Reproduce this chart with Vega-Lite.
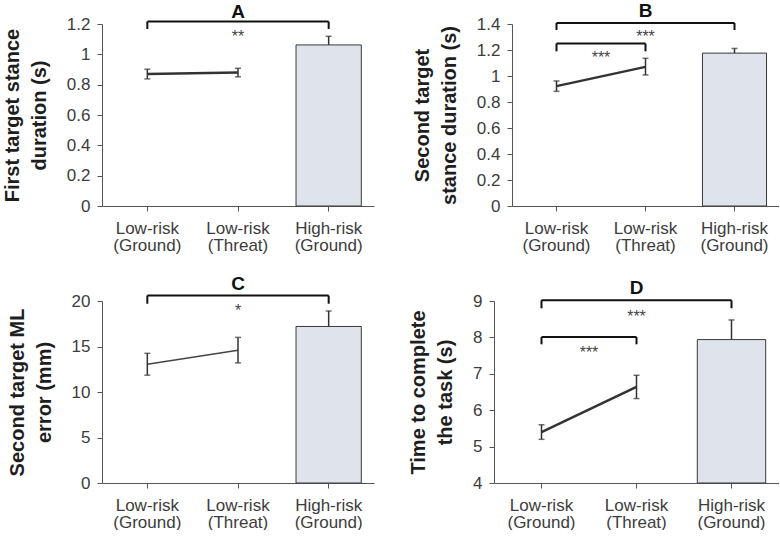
{
  "$schema": "https://vega.github.io/schema/vega-lite/v6.json",
  "padding": {"left": 2, "top": 2, "right": 0, "bottom": 0},
  "background": "white",
  "config": {
    "font": "Liberation Sans",
    "view": {"stroke": null},
    "title": {"font": "Liberation Sans", "fontSize": 19, "fontWeight": "bold", "color": "#111", "anchor": "middle", "frame": "group"},
    "axis": {
      "labelFont": "Liberation Sans", "titleFont": "Liberation Sans",
      "domainColor": "#555", "tickColor": "#555", "labelColor": "#3c3c3c", "titleColor": "#1e1e1e",
      "grid": false, "tickSize": 5, "domainWidth": 1, "tickWidth": 1, "labelOverlap": false
    },
    "axisX": {"labelFontSize": 17, "labelLineHeight": 17, "labelAngle": 0, "labelPadding": 9, "labelBaseline": "top", "labelExpr": "split(datum.label, ' ')", "title": null},
    "axisY": {"labelFontSize": 17, "labelPadding": 7, "titleFontSize": 20, "titleFontWeight": "bold", "titleLineHeight": 27, "titlePadding": 17, "format": "~g"}
  },
  "datasets": {
    "a": [
      {"cond": "Low-risk (Ground)", "kind": "line", "mean": 0.87, "lo": 0.838, "hi": 0.902},
      {"cond": "Low-risk (Threat)", "kind": "line", "mean": 0.88, "lo": 0.852, "hi": 0.908},
      {"cond": "High-risk (Ground)", "kind": "bar", "mean": 1.062, "lo": 1.062, "hi": 1.119}
    ],
    "aBr": [
      {"x1": "Low-risk (Ground)", "x2": "High-risk (Ground)", "y": 1.216, "leg": 1.167, "label": "**", "lx": "Low-risk (Threat)", "pos": "center", "ly": 1.14}
    ],
    "b": [
      {"cond": "Low-risk (Ground)", "kind": "line", "mean": 0.922, "lo": 0.882, "hi": 0.962},
      {"cond": "Low-risk (Threat)", "kind": "line", "mean": 1.07, "lo": 1.008, "hi": 1.136},
      {"cond": "High-risk (Ground)", "kind": "bar", "mean": 1.176, "lo": 1.176, "hi": 1.212}
    ],
    "bBr": [
      {"x1": "Low-risk (Ground)", "x2": "High-risk (Ground)", "y": 1.408, "leg": 1.354, "label": "***", "lx": "Low-risk (Threat)", "pos": "center", "ly": 1.33},
      {"x1": "Low-risk (Ground)", "x2": "Low-risk (Threat)", "y": 1.25, "leg": 1.19, "label": "***", "lx": "Low-risk (Ground)", "pos": "edge", "ly": 1.173}
    ],
    "c": [
      {"cond": "Low-risk (Ground)", "kind": "line", "mean": 13.05, "lo": 11.85, "hi": 14.25},
      {"cond": "Low-risk (Threat)", "kind": "line", "mean": 14.6, "lo": 13.2, "hi": 16.0},
      {"cond": "High-risk (Ground)", "kind": "bar", "mean": 17.2, "lo": 17.2, "hi": 18.9}
    ],
    "cBr": [
      {"x1": "Low-risk (Ground)", "x2": "High-risk (Ground)", "y": 20.6, "leg": 19.7, "label": "*", "lx": "Low-risk (Threat)", "pos": "center", "ly": 19.3}
    ],
    "d": [
      {"cond": "Low-risk (Ground)", "kind": "line", "mean": 5.4, "lo": 5.2, "hi": 5.6},
      {"cond": "Low-risk (Threat)", "kind": "line", "mean": 6.64, "lo": 6.32, "hi": 6.96},
      {"cond": "High-risk (Ground)", "kind": "bar", "mean": 7.94, "lo": 7.94, "hi": 8.48}
    ],
    "dBr": [
      {"x1": "Low-risk (Ground)", "x2": "High-risk (Ground)", "y": 9.02, "leg": 8.8, "label": "***", "lx": "Low-risk (Threat)", "pos": "center", "ly": 8.66},
      {"x1": "Low-risk (Ground)", "x2": "Low-risk (Threat)", "y": 8.01, "leg": 7.81, "label": "***", "lx": "Low-risk (Ground)", "pos": "edge", "ly": 7.67}
    ]
  },
  "spacing": 22,
  "vconcat": [
    {
      "bounds": "flush",
      "spacing": 138,
      "hconcat": [
        {
          "width": 272, "height": 182,
          "title": {"text": "A", "offset": -7},
          "layer": [
            {"data": {"name": "a"}, "transform": [{"filter": "datum.kind == 'bar'"}],
             "mark": {"type": "bar", "width": {"band": 0.72}, "fill": "#dfe3ec", "stroke": "#3a3a3a", "strokeWidth": 1},
             "encoding": {
               "x": {"field": "cond", "type": "nominal", "sort": null, "scale": {"domain": ["Low-risk (Ground)", "Low-risk (Threat)", "High-risk (Ground)"], "paddingInner": 0, "paddingOuter": 0}},
               "y": {"field": "mean", "type": "quantitative", "scale": {"domain": [0, 1.2], "nice": false}, "axis": {"values": [0, 0.2, 0.4, 0.6, 0.8, 1, 1.2], "title": ["First target stance", "duration (s)"]}},
               "y2": {"datum": 0}
             }},
            {"data": {"name": "a"}, "transform": [{"filter": "datum.kind == 'line'"}],
             "mark": {"type": "line", "color": "#333", "strokeWidth": 2.5},
             "encoding": {"x": {"field": "cond", "type": "nominal", "sort": null}, "y": {"field": "mean", "type": "quantitative", "axis": {"values": [0, 0.2, 0.4, 0.6, 0.8, 1, 1.2]}}}},
            {"data": {"name": "a"},
             "mark": {"type": "rule", "color": "#333", "strokeWidth": 1.5},
             "encoding": {"x": {"field": "cond", "type": "nominal", "sort": null}, "y": {"field": "lo", "type": "quantitative", "axis": {"values": [0, 0.2, 0.4, 0.6, 0.8, 1, 1.2]}}, "y2": {"field": "hi"}}},
            {"data": {"name": "a"},
             "mark": {"type": "tick", "color": "#333", "size": 6, "thickness": 1.5},
             "encoding": {"x": {"field": "cond", "type": "nominal", "sort": null}, "y": {"field": "hi", "type": "quantitative", "axis": {"values": [0, 0.2, 0.4, 0.6, 0.8, 1, 1.2]}}}},
            {"data": {"name": "a"}, "transform": [{"filter": "datum.kind == 'line'"}],
             "mark": {"type": "tick", "color": "#333", "size": 6, "thickness": 1.5},
             "encoding": {"x": {"field": "cond", "type": "nominal", "sort": null}, "y": {"field": "lo", "type": "quantitative", "axis": {"values": [0, 0.2, 0.4, 0.6, 0.8, 1, 1.2]}}}},
            {"data": {"name": "aBr"},
             "mark": {"type": "rule", "color": "#111", "strokeWidth": 2},
             "encoding": {"x": {"field": "x1", "type": "nominal"}, "x2": {"field": "x2"}, "y": {"field": "y", "type": "quantitative", "axis": {"values": [0, 0.2, 0.4, 0.6, 0.8, 1, 1.2]}}}},
            {"data": {"name": "aBr"},
             "mark": {"type": "rule", "color": "#111", "strokeWidth": 2},
             "encoding": {"x": {"field": "x1", "type": "nominal"}, "y": {"field": "y", "type": "quantitative", "axis": {"values": [0, 0.2, 0.4, 0.6, 0.8, 1, 1.2]}}, "y2": {"field": "leg"}}},
            {"data": {"name": "aBr"},
             "mark": {"type": "rule", "color": "#111", "strokeWidth": 2},
             "encoding": {"x": {"field": "x2", "type": "nominal"}, "y": {"field": "y", "type": "quantitative", "axis": {"values": [0, 0.2, 0.4, 0.6, 0.8, 1, 1.2]}}, "y2": {"field": "leg"}}},
            {"data": {"name": "aBr"}, "transform": [{"filter": "datum.pos == 'center'"}],
             "mark": {"type": "text", "fontSize": 16, "color": "#444", "baseline": "alphabetic", "dy": 9},
             "encoding": {"x": {"field": "lx", "type": "nominal"}, "y": {"field": "ly", "type": "quantitative", "axis": {"values": [0, 0.2, 0.4, 0.6, 0.8, 1, 1.2]}}, "text": {"field": "label"}}}
          ]
        },
        {
          "width": 267, "height": 182,
          "title": {"text": "B", "offset": -6},
          "layer": [
            {"data": {"name": "b"}, "transform": [{"filter": "datum.kind == 'bar'"}],
             "mark": {"type": "bar", "width": {"band": 0.72}, "fill": "#dfe3ec", "stroke": "#3a3a3a", "strokeWidth": 1},
             "encoding": {
               "x": {"field": "cond", "type": "nominal", "sort": null, "scale": {"domain": ["Low-risk (Ground)", "Low-risk (Threat)", "High-risk (Ground)"], "paddingInner": 0, "paddingOuter": 0}},
               "y": {"field": "mean", "type": "quantitative", "scale": {"domain": [0, 1.4], "nice": false}, "axis": {"values": [0, 0.2, 0.4, 0.6, 0.8, 1, 1.2, 1.4], "title": ["Second target", "stance duration (s)"]}},
               "y2": {"datum": 0}
             }},
            {"data": {"name": "b"}, "transform": [{"filter": "datum.kind == 'line'"}],
             "mark": {"type": "line", "color": "#333", "strokeWidth": 2.5},
             "encoding": {"x": {"field": "cond", "type": "nominal", "sort": null}, "y": {"field": "mean", "type": "quantitative", "axis": {"values": [0, 0.2, 0.4, 0.6, 0.8, 1, 1.2, 1.4]}}}},
            {"data": {"name": "b"},
             "mark": {"type": "rule", "color": "#333", "strokeWidth": 1.5},
             "encoding": {"x": {"field": "cond", "type": "nominal", "sort": null}, "y": {"field": "lo", "type": "quantitative", "axis": {"values": [0, 0.2, 0.4, 0.6, 0.8, 1, 1.2, 1.4]}}, "y2": {"field": "hi"}}},
            {"data": {"name": "b"},
             "mark": {"type": "tick", "color": "#333", "size": 6, "thickness": 1.5},
             "encoding": {"x": {"field": "cond", "type": "nominal", "sort": null}, "y": {"field": "hi", "type": "quantitative", "axis": {"values": [0, 0.2, 0.4, 0.6, 0.8, 1, 1.2, 1.4]}}}},
            {"data": {"name": "b"}, "transform": [{"filter": "datum.kind == 'line'"}],
             "mark": {"type": "tick", "color": "#333", "size": 6, "thickness": 1.5},
             "encoding": {"x": {"field": "cond", "type": "nominal", "sort": null}, "y": {"field": "lo", "type": "quantitative", "axis": {"values": [0, 0.2, 0.4, 0.6, 0.8, 1, 1.2, 1.4]}}}},
            {"data": {"name": "bBr"},
             "mark": {"type": "rule", "color": "#111", "strokeWidth": 2},
             "encoding": {"x": {"field": "x1", "type": "nominal"}, "x2": {"field": "x2"}, "y": {"field": "y", "type": "quantitative", "axis": {"values": [0, 0.2, 0.4, 0.6, 0.8, 1, 1.2, 1.4]}}}},
            {"data": {"name": "bBr"},
             "mark": {"type": "rule", "color": "#111", "strokeWidth": 2},
             "encoding": {"x": {"field": "x1", "type": "nominal"}, "y": {"field": "y", "type": "quantitative", "axis": {"values": [0, 0.2, 0.4, 0.6, 0.8, 1, 1.2, 1.4]}}, "y2": {"field": "leg"}}},
            {"data": {"name": "bBr"},
             "mark": {"type": "rule", "color": "#111", "strokeWidth": 2},
             "encoding": {"x": {"field": "x2", "type": "nominal"}, "y": {"field": "y", "type": "quantitative", "axis": {"values": [0, 0.2, 0.4, 0.6, 0.8, 1, 1.2, 1.4]}}, "y2": {"field": "leg"}}},
            {"data": {"name": "bBr"}, "transform": [{"filter": "datum.pos == 'center'"}],
             "mark": {"type": "text", "fontSize": 16, "color": "#444", "baseline": "alphabetic", "dy": 9},
             "encoding": {"x": {"field": "lx", "type": "nominal"}, "y": {"field": "ly", "type": "quantitative", "axis": {"values": [0, 0.2, 0.4, 0.6, 0.8, 1, 1.2, 1.4]}}, "text": {"field": "label"}}},
            {"data": {"name": "bBr"}, "transform": [{"filter": "datum.pos == 'edge'"}],
             "mark": {"type": "text", "fontSize": 16, "color": "#444", "baseline": "alphabetic", "dy": 9},
             "encoding": {"x": {"field": "lx", "type": "nominal", "bandPosition": 1}, "y": {"field": "ly", "type": "quantitative", "axis": {"values": [0, 0.2, 0.4, 0.6, 0.8, 1, 1.2, 1.4]}}, "text": {"field": "label"}}}
          ]
        }
      ]
    },
    {
      "bounds": "flush",
      "spacing": 120,
      "hconcat": [
        {
          "width": 272, "height": 182,
          "title": {"text": "C", "offset": -2},
          "layer": [
            {"data": {"name": "c"}, "transform": [{"filter": "datum.kind == 'bar'"}],
             "mark": {"type": "bar", "width": {"band": 0.72}, "fill": "#dfe3ec", "stroke": "#3a3a3a", "strokeWidth": 1},
             "encoding": {
               "x": {"field": "cond", "type": "nominal", "sort": null, "scale": {"domain": ["Low-risk (Ground)", "Low-risk (Threat)", "High-risk (Ground)"], "paddingInner": 0, "paddingOuter": 0}},
               "y": {"field": "mean", "type": "quantitative", "scale": {"domain": [0, 20], "nice": false}, "axis": {"values": [0, 5, 10, 15, 20], "title": ["Second target ML", "error (mm)"]}},
               "y2": {"datum": 0}
             }},
            {"data": {"name": "c"}, "transform": [{"filter": "datum.kind == 'line'"}],
             "mark": {"type": "line", "color": "#444", "strokeWidth": 1.5},
             "encoding": {"x": {"field": "cond", "type": "nominal", "sort": null}, "y": {"field": "mean", "type": "quantitative", "axis": {"values": [0, 5, 10, 15, 20]}}}},
            {"data": {"name": "c"},
             "mark": {"type": "rule", "color": "#333", "strokeWidth": 1.5},
             "encoding": {"x": {"field": "cond", "type": "nominal", "sort": null}, "y": {"field": "lo", "type": "quantitative", "axis": {"values": [0, 5, 10, 15, 20]}}, "y2": {"field": "hi"}}},
            {"data": {"name": "c"},
             "mark": {"type": "tick", "color": "#333", "size": 6, "thickness": 1.5},
             "encoding": {"x": {"field": "cond", "type": "nominal", "sort": null}, "y": {"field": "hi", "type": "quantitative", "axis": {"values": [0, 5, 10, 15, 20]}}}},
            {"data": {"name": "c"}, "transform": [{"filter": "datum.kind == 'line'"}],
             "mark": {"type": "tick", "color": "#333", "size": 6, "thickness": 1.5},
             "encoding": {"x": {"field": "cond", "type": "nominal", "sort": null}, "y": {"field": "lo", "type": "quantitative", "axis": {"values": [0, 5, 10, 15, 20]}}}},
            {"data": {"name": "cBr"},
             "mark": {"type": "rule", "color": "#111", "strokeWidth": 2},
             "encoding": {"x": {"field": "x1", "type": "nominal"}, "x2": {"field": "x2"}, "y": {"field": "y", "type": "quantitative", "axis": {"values": [0, 5, 10, 15, 20]}}}},
            {"data": {"name": "cBr"},
             "mark": {"type": "rule", "color": "#111", "strokeWidth": 2},
             "encoding": {"x": {"field": "x1", "type": "nominal"}, "y": {"field": "y", "type": "quantitative", "axis": {"values": [0, 5, 10, 15, 20]}}, "y2": {"field": "leg"}}},
            {"data": {"name": "cBr"},
             "mark": {"type": "rule", "color": "#111", "strokeWidth": 2},
             "encoding": {"x": {"field": "x2", "type": "nominal"}, "y": {"field": "y", "type": "quantitative", "axis": {"values": [0, 5, 10, 15, 20]}}, "y2": {"field": "leg"}}},
            {"data": {"name": "cBr"}, "transform": [{"filter": "datum.pos == 'center'"}],
             "mark": {"type": "text", "fontSize": 16, "color": "#444", "baseline": "alphabetic", "dy": 9},
             "encoding": {"x": {"field": "lx", "type": "nominal"}, "y": {"field": "ly", "type": "quantitative", "axis": {"values": [0, 5, 10, 15, 20]}}, "text": {"field": "label"}}}
          ]
        },
        {
          "width": 285, "height": 182,
          "title": {"text": "D", "offset": -6},
          "layer": [
            {"data": {"name": "d"}, "transform": [{"filter": "datum.kind == 'bar'"}],
             "mark": {"type": "bar", "width": {"band": 0.72}, "fill": "#dfe3ec", "stroke": "#3a3a3a", "strokeWidth": 1},
             "encoding": {
               "x": {"field": "cond", "type": "nominal", "sort": null, "scale": {"domain": ["Low-risk (Ground)", "Low-risk (Threat)", "High-risk (Ground)"], "paddingInner": 0, "paddingOuter": 0}},
               "y": {"field": "mean", "type": "quantitative", "scale": {"domain": [4, 9], "nice": false, "zero": false}, "axis": {"values": [4, 5, 6, 7, 8, 9], "title": ["Time to complete", "the task (s)"]}},
               "y2": {"datum": 4}
             }},
            {"data": {"name": "d"}, "transform": [{"filter": "datum.kind == 'line'"}],
             "mark": {"type": "line", "color": "#333", "strokeWidth": 2.5},
             "encoding": {"x": {"field": "cond", "type": "nominal", "sort": null}, "y": {"field": "mean", "type": "quantitative", "axis": {"values": [4, 5, 6, 7, 8, 9]}}}},
            {"data": {"name": "d"},
             "mark": {"type": "rule", "color": "#333", "strokeWidth": 1.5},
             "encoding": {"x": {"field": "cond", "type": "nominal", "sort": null}, "y": {"field": "lo", "type": "quantitative", "axis": {"values": [4, 5, 6, 7, 8, 9]}}, "y2": {"field": "hi"}}},
            {"data": {"name": "d"},
             "mark": {"type": "tick", "color": "#333", "size": 6, "thickness": 1.5},
             "encoding": {"x": {"field": "cond", "type": "nominal", "sort": null}, "y": {"field": "hi", "type": "quantitative", "axis": {"values": [4, 5, 6, 7, 8, 9]}}}},
            {"data": {"name": "d"}, "transform": [{"filter": "datum.kind == 'line'"}],
             "mark": {"type": "tick", "color": "#333", "size": 6, "thickness": 1.5},
             "encoding": {"x": {"field": "cond", "type": "nominal", "sort": null}, "y": {"field": "lo", "type": "quantitative", "axis": {"values": [4, 5, 6, 7, 8, 9]}}}},
            {"data": {"name": "dBr"},
             "mark": {"type": "rule", "color": "#111", "strokeWidth": 2},
             "encoding": {"x": {"field": "x1", "type": "nominal"}, "x2": {"field": "x2"}, "y": {"field": "y", "type": "quantitative", "axis": {"values": [4, 5, 6, 7, 8, 9]}}}},
            {"data": {"name": "dBr"},
             "mark": {"type": "rule", "color": "#111", "strokeWidth": 2},
             "encoding": {"x": {"field": "x1", "type": "nominal"}, "y": {"field": "y", "type": "quantitative", "axis": {"values": [4, 5, 6, 7, 8, 9]}}, "y2": {"field": "leg"}}},
            {"data": {"name": "dBr"},
             "mark": {"type": "rule", "color": "#111", "strokeWidth": 2},
             "encoding": {"x": {"field": "x2", "type": "nominal"}, "y": {"field": "y", "type": "quantitative", "axis": {"values": [4, 5, 6, 7, 8, 9]}}, "y2": {"field": "leg"}}},
            {"data": {"name": "dBr"}, "transform": [{"filter": "datum.pos == 'center'"}],
             "mark": {"type": "text", "fontSize": 16, "color": "#444", "baseline": "alphabetic", "dy": 9},
             "encoding": {"x": {"field": "lx", "type": "nominal"}, "y": {"field": "ly", "type": "quantitative", "axis": {"values": [4, 5, 6, 7, 8, 9]}}, "text": {"field": "label"}}},
            {"data": {"name": "dBr"}, "transform": [{"filter": "datum.pos == 'edge'"}],
             "mark": {"type": "text", "fontSize": 16, "color": "#444", "baseline": "alphabetic", "dy": 9},
             "encoding": {"x": {"field": "lx", "type": "nominal", "bandPosition": 1}, "y": {"field": "ly", "type": "quantitative", "axis": {"values": [4, 5, 6, 7, 8, 9]}}, "text": {"field": "label"}}}
          ]
        }
      ]
    }
  ]
}
